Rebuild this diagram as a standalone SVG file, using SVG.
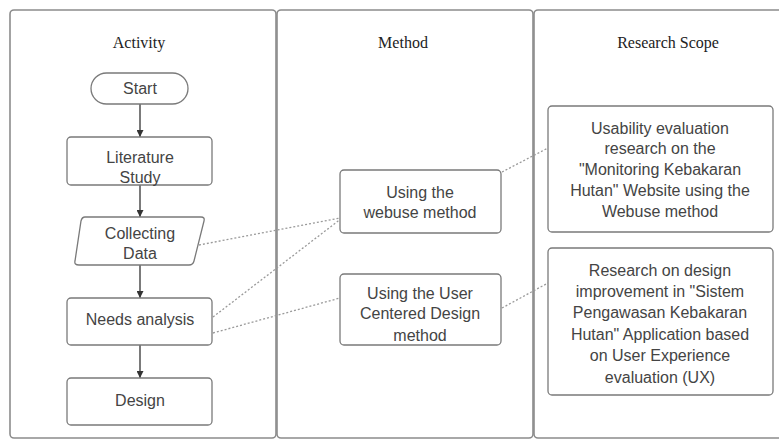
<svg xmlns="http://www.w3.org/2000/svg" width="779" height="439" viewBox="0 0 779 439">
<defs>
<style>
.lane{fill:#fff;stroke:#8c8c8c;stroke-width:1.6}
.box{fill:#fff;stroke:#7a7a7a;stroke-width:1.3}
.t{font-family:"Liberation Sans",Arial,sans-serif;font-size:16px;fill:#444;text-anchor:middle}
.h{font-family:"Liberation Serif","Times New Roman",serif;font-size:16px;fill:#222;text-anchor:middle}
.flow{stroke:#333;stroke-width:1.3;fill:none;marker-end:url(#ah)}
.dot{stroke:#9a9a9a;stroke-width:1.3;fill:none;stroke-dasharray:2 2}
</style>
<marker id="ah" viewBox="0 0 10 10" refX="10" refY="5" markerWidth="7" markerHeight="7" markerUnits="userSpaceOnUse" orient="auto">
<path d="M0,0 L10,5 L0,10 z" fill="#333"/>
</marker>
</defs>
<rect width="779" height="439" fill="#fff"/>
<g id="lanes">
<rect class="lane" x="10" y="10" width="266" height="428" rx="4"/>
<rect class="lane" x="277" y="10" width="256" height="428" rx="4"/>
<rect class="lane" x="534" y="10" width="260" height="428" rx="4"/>
<text class="h" x="139" y="48">Activity</text>
<text class="h" x="403" y="48">Method</text>
<text class="h" x="668" y="48">Research Scope</text>
</g>
<g id="connectors">
<line class="flow" x1="140" y1="104" x2="140" y2="137"/>
<line class="flow" x1="140" y1="185" x2="140" y2="217"/>
<line class="flow" x1="140" y1="265" x2="140" y2="298"/>
<line class="flow" x1="140" y1="345" x2="140" y2="378"/>
<line class="dot" x1="199" y1="245" x2="340" y2="218"/>
<line class="dot" x1="213" y1="317" x2="346" y2="215"/>
<line class="dot" x1="213" y1="333" x2="340" y2="298"/>
<line class="dot" x1="502" y1="172" x2="548" y2="148"/>
<line class="dot" x1="502" y1="308" x2="548" y2="283"/>
</g>
<g id="start">
<rect class="box" x="91" y="73" width="97" height="31" rx="15.5"/>
<text class="t" x="140" y="94">Start</text>
</g>
<g id="literature">
<rect class="box" x="67" y="137" width="145" height="48" rx="4"/>
<text class="t" x="140" y="163">Literature</text>
<text class="t" x="140" y="183">Study</text>
</g>
<g id="collecting">
<path class="box" d="M85,217 L201,217 Q205,217 204,221 L194,261 Q193,265 189,265 L79,265 Q74,265 75,261 L81,221 Q82,217 85,217 z"/>
<text class="t" x="140" y="239">Collecting</text>
<text class="t" x="140" y="259">Data</text>
</g>
<g id="needs">
<rect class="box" x="67" y="298" width="145" height="47" rx="4"/>
<text class="t" x="140" y="325">Needs analysis</text>
</g>
<g id="design">
<rect class="box" x="67" y="378" width="145" height="47" rx="4"/>
<text class="t" x="140" y="406">Design</text>
</g>
<g id="webuse">
<rect class="box" x="340" y="170" width="161" height="63" rx="4"/>
<text class="t" x="420" y="198">Using the</text>
<text class="t" x="420" y="218">webuse method</text>
</g>
<g id="ucd">
<rect class="box" x="340" y="274" width="161" height="71" rx="4"/>
<text class="t" x="420" y="299">Using the User</text>
<text class="t" x="420" y="319">Centered Design</text>
<text class="t" x="420" y="341">method</text>
</g>
<g id="scope1">
<rect class="box" x="548" y="106" width="225" height="126" rx="4"/>
<text class="t" x="660" y="134">Usability evaluation</text>
<text class="t" x="660" y="154">research on the</text>
<text class="t" x="660" y="175">"Monitoring Kebakaran</text>
<text class="t" x="660" y="196">Hutan" Website using the</text>
<text class="t" x="660" y="217">Webuse method</text>
</g>
<g id="scope2">
<rect class="box" x="548" y="248" width="225" height="147" rx="4"/>
<text class="t" x="660" y="276">Research on design</text>
<text class="t" x="660" y="297">improvement in "Sistem</text>
<text class="t" x="660" y="318">Pengawasan Kebakaran</text>
<text class="t" x="660" y="340">Hutan" Application based</text>
<text class="t" x="660" y="361">on User Experience</text>
<text class="t" x="660" y="383">evaluation (UX)</text>
</g>
</svg>
